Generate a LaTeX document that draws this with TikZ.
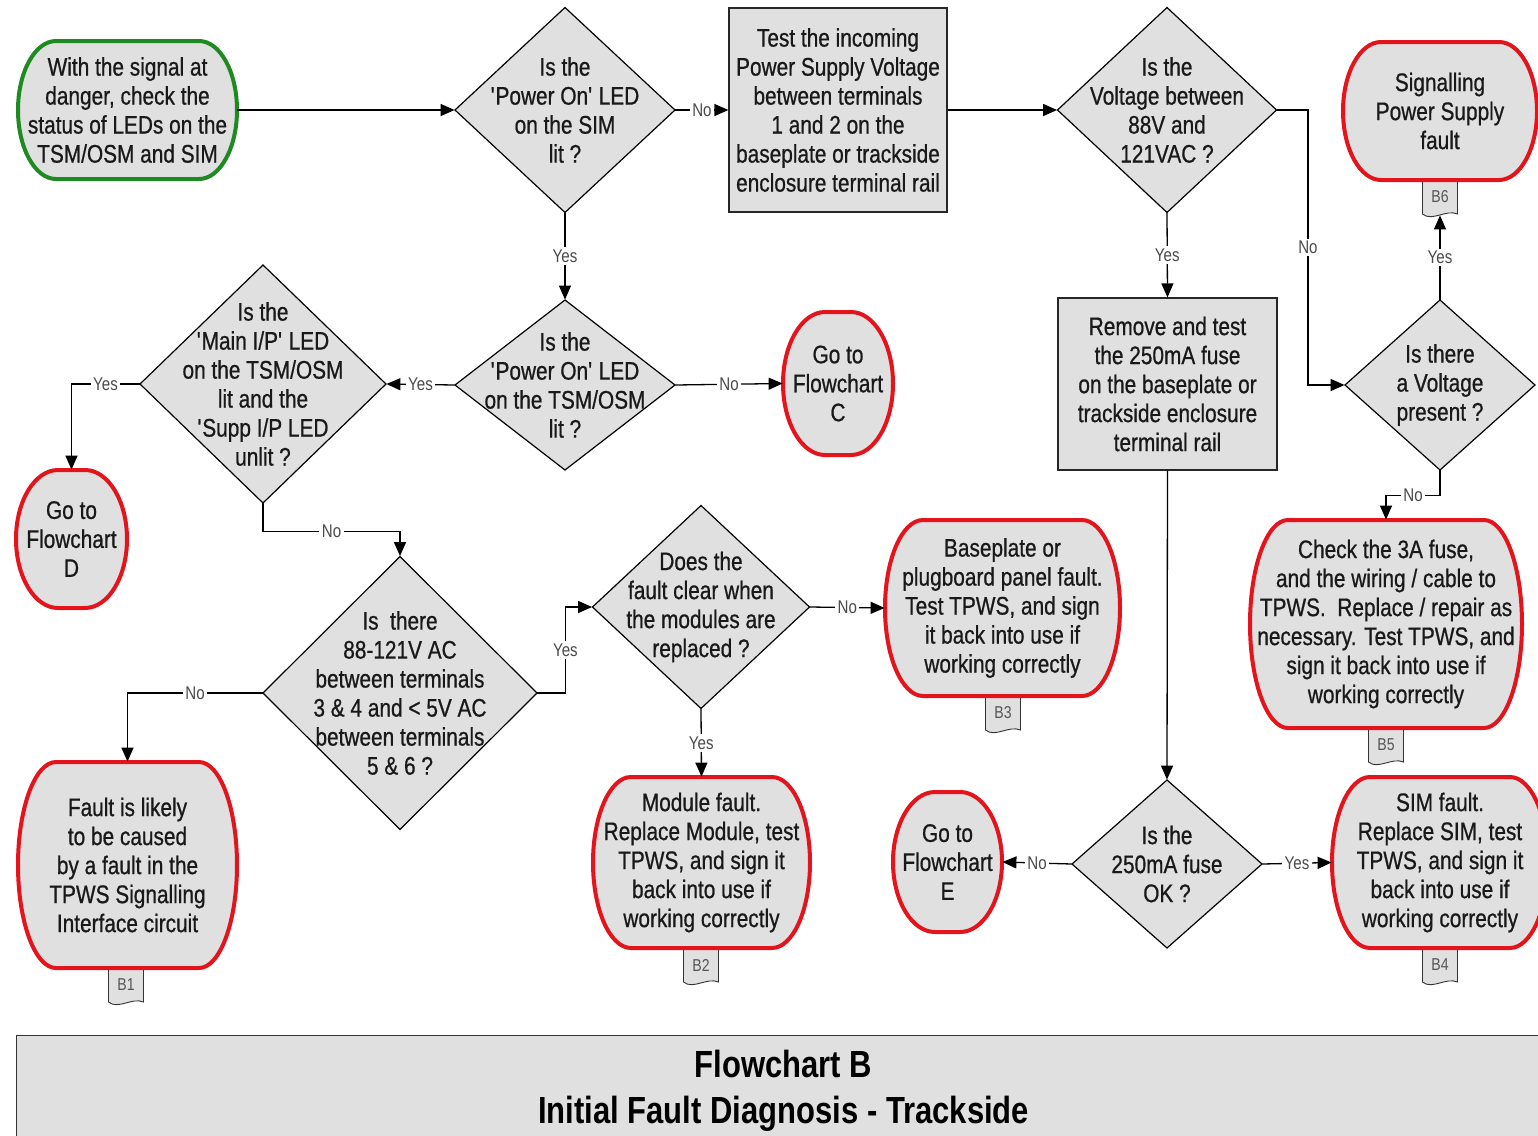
\documentclass[tikz,border=0pt]{standalone}
\usepackage{fontspec}
\setmainfont{Liberation Sans}[FakeStretch=0.82, UprightFeatures={FakeBold=0.7}]
\newfontfamily\plainfont{Liberation Sans}[FakeStretch=0.82]
\usetikzlibrary{arrows.meta}

\definecolor{shapefill}{HTML}{E0E0E0}
\definecolor{stopred}{HTML}{E3141C}
\definecolor{startgreen}{HTML}{1F8A22}
\definecolor{lblgray}{HTML}{4A4A4A}
\definecolor{taggray}{HTML}{555555}

\tikzset{
  txt/.style={align=center, inner sep=0pt, text=black!90,
    font=\fontsize{12.7}{14.5}\selectfont},
  decshape/.style={fill=shapefill, draw=black, line width=0.6pt, line join=miter},
  procbox/.style={txt, fill=shapefill, draw=black!85, line width=0.6pt},
  stopline/.style={fill=shapefill, draw=stopred, line width=2pt},
  startline/.style={fill=shapefill, draw=startgreen, line width=2pt},
  tagshape/.style={fill=shapefill, draw=black!80, line width=0.45pt},
  tagtext/.style={inner sep=0pt, text=taggray, font=\plainfont\fontsize{8.6}{10}\selectfont},
  conn/.style={draw=black, line width=0.65pt, -{Triangle[length=7pt,width=6pt]}},
  lbl/.style={fill=white, inner sep=1.2pt, text=lblgray,
    font=\plainfont\fontsize{9.2}{10}\selectfont},
  titlebox/.style={fill=shapefill, draw=black!80, line width=0.6pt, align=center,
    inner sep=0pt, font=\fontsize{18.9}{23}\selectfont\bfseries},
}

% decision diamond: name, cx, cy, width, height, text
\newcommand\decision[6]{%
  \filldraw[decshape] (#2,{#3-#5/2}) -- ({#2+#4/2},#3) -- (#2,{#3+#5/2})
    -- ({#2-#4/2},#3) -- cycle;
  \node[txt, minimum width={#4*0.5pt}, minimum height={#5*0.5pt}] (#1) at (#2,#3) {#6};}

% terminator with elliptic corners: name, x1, y1, x2, y2, corner radius, style, text
\newcommand\terminal[8]{%
  \filldraw[#7] ({#2+#6},#3) -- ({#4-#6},#3)
    .. controls ({#4-0.448*#6},#3) and (#4,{(#3+#5)/2-0.276*(#5-#3)}) .. (#4,{(#3+#5)/2})
    .. controls (#4,{(#3+#5)/2+0.276*(#5-#3)}) and ({#4-0.448*#6},#5) .. ({#4-#6},#5)
    -- ({#2+#6},#5)
    .. controls ({#2+0.448*#6},#5) and (#2,{(#3+#5)/2+0.276*(#5-#3)}) .. (#2,{(#3+#5)/2})
    .. controls (#2,{(#3+#5)/2-0.276*(#5-#3)}) and ({#2+0.448*#6},#3) .. cycle;
  \node[txt, minimum width={(#4-#2)*0.5pt}, minimum height={(#5-#3)*0.5pt}] (#1)
    at ({(#2+#4)/2},{(#3+#5)/2}) {#8};}

% reference tag with a wavy lower edge: name, cx, top, label
\newcommand\doctag[4]{%
  \filldraw[tagshape] ({#2-17.5},#3) -- ({#2-17.5},{#3+34})
    .. controls ({#2-8},{#3+42}) and ({#2+6},{#3+29}) .. ({#2+17.5},{#3+34})
    -- ({#2+17.5},#3);
  \node[tagtext, minimum width=17.5pt, minimum height=18pt] (#1) at (#2,{#3+17}) {#4};}

\newcommand\q{\textquotesingle}

\begin{document}
\begin{tikzpicture}[x=0.5pt, y=-0.5pt]
\useasboundingbox (0,0) rectangle (1538,1136);

% reference tags (under the terminators)
\doctag{b6}{1440}{180}{B6}
\doctag{b3}{1003}{696}{B3}
\doctag{b5}{1386}{728}{B5}
\doctag{b1}{126}{968}{B1}
\doctag{b2}{701}{948}{B2}
\doctag{b4}{1440}{948}{B4}

% terminators
\terminal{start}{18}{41}{237}{179}{38}{startline}{With the signal at\\danger, check the\\status of LEDs on the\\TSM/OSM and SIM}
\terminal{psu}{1343}{42}{1537}{180}{38}{stopline}{Signalling\\Power Supply\\fault}
\terminal{goc}{783}{312}{893}{455}{42}{stopline}{Go to\\Flowchart\\C}
\terminal{god}{16}{470}{127}{608}{42}{stopline}{Go to\\Flowchart\\D}
\terminal{base}{885}{520}{1120}{696}{38}{stopline}{Baseplate or\\plugboard panel fault.\\Test TPWS, and sign\\it back into use if\\working correctly}
\terminal{check}{1250}{520}{1522}{728}{38}{stopline}{Check the 3A fuse,\\and the wiring / cable to\\TPWS.\ \ Replace / repair as\\necessary. Test TPWS, and\\sign it back into use if\\working correctly}
\terminal{fault}{18}{762}{237}{968}{38}{stopline}{Fault is likely\\to be caused\\by a fault in the\\TPWS Signalling\\Interface circuit}
\terminal{module}{593}{777}{810}{948}{38}{stopline}{Module fault.\\Replace Module, test\\TPWS, and sign it\\back into use if\\working correctly}
\terminal{goe}{893}{792}{1002}{932}{42}{stopline}{Go to\\Flowchart\\E}
\terminal{sim}{1332}{777}{1548}{948}{38}{stopline}{SIM fault.\\Replace SIM, test\\TPWS, and sign it\\back into use if\\working correctly}

% process boxes
\node[procbox, minimum width=109pt, minimum height=102pt] (testv) at (838,110)
  {Test the incoming\\Power Supply Voltage\\between terminals\\1 and 2 on the\\baseplate or trackside\\enclosure terminal rail};
\node[procbox, minimum width=109.5pt, minimum height=86pt] (remove) at (1167.5,384)
  {Remove and test\\the 250mA fuse\\on the baseplate or\\trackside enclosure\\terminal rail};

% decisions
\decision{d1}{565}{110}{220}{205}{Is the\\\q Power On\q{} LED\\on the SIM\\lit ?}
\decision{d2}{1167}{110}{219}{205}{Is the\\Voltage between\\88V and\\121VAC ?}
\decision{d3}{565}{385}{220}{170}{Is the\\\q Power On\q{} LED\\on the TSM/OSM\\lit ?}
\decision{d4}{263}{384}{246}{238}{Is the\\\q Main I/P\q{} LED\\on the TSM/OSM\\lit and the\\\q Supp I/P LED\\unlit ?}
\decision{d5}{1440}{385}{190}{170}{Is there\\a Voltage\\present ?}
\decision{d6}{400}{693}{274}{273}{Is\ \ there\\88-121V AC\\between terminals\\3 \& 4 and < 5V AC\\between terminals\\5 \& 6 ?}
\decision{d7}{701}{607}{217}{203}{Does the\\fault clear when\\the modules are\\replaced ?}
\decision{d8}{1167}{864}{190}{168}{Is the\\250mA fuse\\OK ?}

% title panel
\node[titlebox, minimum width=767pt, minimum height=55pt, anchor=north west] (title) at (16,1035)
  {Flowchart B\\Initial Fault Diagnosis - Trackside};

% connectors
\draw[conn] (start.east) -- (d1.west);
\draw[conn] (d1.east) -- node[lbl] (l1) {No} (testv.west);
\draw[conn] (testv.east) -- (d2.west);
\draw[conn] (d2.east) -- ++(31,0) |- node[lbl, pos=0.25] (l2) {No} (d5.west);
\draw[conn] (d1.south) -- node[lbl] (l3) {Yes} (d3.north);
\draw[conn] (d2.south) -- node[lbl] (l4) {Yes} (remove.north);
\draw[conn] (d5.north) -- node[lbl] (l5) {Yes} (b6.south);
\draw[conn] (d3.east) -- node[lbl] (l6) {No} (goc.west);
\draw[conn] (d3.west) -- node[lbl] (l7) {Yes} (d4.east);
\draw[conn] (d4.west) -| node[lbl, pos=0.25] (l8) {Yes} (god.north);
\draw[conn] (d4.south) -- ++(0,28) -| node[lbl, pos=0.25] (l9) {No} (d6.north);
\draw[conn] (d6.east) -- ++(28,0) |- node[lbl, pos=0.25] (l10) {Yes} (d7.west);
\draw[conn] (d6.west) -| node[lbl, pos=0.25] (l11) {No} (fault.north);
\draw[conn] (d7.east) -- node[lbl] (l12) {No} (base.west);
\draw[conn] (d7.south) -- node[lbl] (l13) {Yes} (module.north);
\draw[conn] (remove.south) -- (d8.north);
\draw[conn] (d8.west) -- node[lbl] (l14) {No} (goe.east);
\draw[conn] (d8.east) -- node[lbl] (l15) {Yes} (sim.west);
\draw[conn] (d5.south) -- ++(0,25) -| node[lbl, pos=0.25] (l16) {No} (check.north);
\end{tikzpicture}
\end{document}
